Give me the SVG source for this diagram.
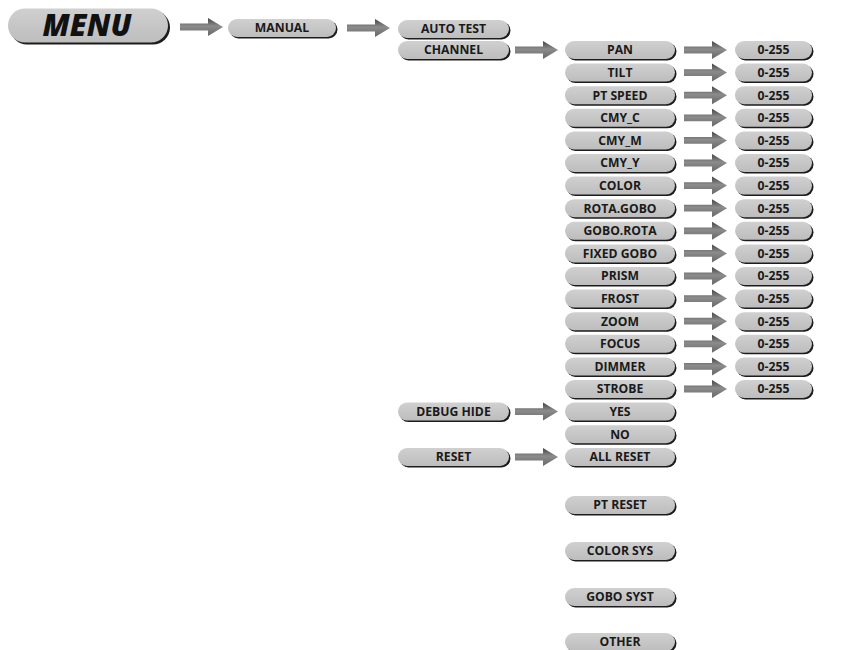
<svg xmlns="http://www.w3.org/2000/svg" width="843" height="650" viewBox="0 0 843 650">
<defs>
<linearGradient id="pg" x1="0" y1="0" x2="0" y2="1">
<stop offset="0" stop-color="#d0d0d0"/>
<stop offset="1" stop-color="#bdbdbd"/>
</linearGradient>
<linearGradient id="ag" x1="0" y1="0" x2="0" y2="1">
<stop offset="0" stop-color="#444"/>
<stop offset="0.45" stop-color="#8c8c8c"/>
<stop offset="1" stop-color="#666"/>
</linearGradient>
<path id="arr" d="M0,-3.4 H28 V-9 L43,0 L28,9 V3.4 H0 Z"/>
</defs>
<style>
.sh{fill:#1c1c1c}
.pl{fill:url(#pg)}
.t{font-family:"Open Sans","Noto Sans","Liberation Sans",sans-serif;font-weight:bold;font-size:12.2px;fill:#1a1a1a;text-anchor:middle}
.mt{font-family:"Open Sans","Noto Sans","Liberation Sans",sans-serif;font-weight:800;font-style:italic;font-size:30px;fill:#111;text-anchor:middle}
.a{fill:url(#ag)}
</style>
<rect width="843" height="650" fill="#fff"/>
<g id="connectors">
<use href="#arr" class="a" x="180" y="27"/>
<use href="#arr" class="a" x="347" y="28"/>
<use href="#arr" class="a" x="515" y="50"/>
<use href="#arr" class="a" x="515" y="411.6"/>
<use href="#arr" class="a" x="515" y="457"/>
<use href="#arr" class="a" x="684" y="50"/>
<use href="#arr" class="a" x="684" y="72.6"/>
<use href="#arr" class="a" x="684" y="95.2"/>
<use href="#arr" class="a" x="684" y="117.8"/>
<use href="#arr" class="a" x="684" y="140.4"/>
<use href="#arr" class="a" x="684" y="163"/>
<use href="#arr" class="a" x="684" y="185.6"/>
<use href="#arr" class="a" x="684" y="208.2"/>
<use href="#arr" class="a" x="684" y="230.8"/>
<use href="#arr" class="a" x="684" y="253.4"/>
<use href="#arr" class="a" x="684" y="276"/>
<use href="#arr" class="a" x="684" y="298.6"/>
<use href="#arr" class="a" x="684" y="321.2"/>
<use href="#arr" class="a" x="684" y="343.8"/>
<use href="#arr" class="a" x="684" y="366.4"/>
<use href="#arr" class="a" x="684" y="389"/>
</g>
<g id="menu"><rect class="sh" x="10" y="10.5" width="160" height="34" rx="17"/><rect class="pl" x="8" y="8.5" width="160" height="34" rx="17"/><text class="mt" x="87" y="36">MENU</text></g>
<g id="manual"><rect class="sh" x="229.5" y="20.5" width="108" height="18" rx="9"/><rect class="pl" x="228" y="19" width="108" height="18" rx="9"/><text class="t" x="282" y="32.3">MANUAL</text></g>
<g id="autotest"><rect class="sh" x="399.5" y="21.5" width="111" height="18" rx="9"/><rect class="pl" x="398" y="20" width="111" height="18" rx="9"/><text class="t" x="453.5" y="33.3">AUTO TEST</text></g>
<g id="channel"><rect class="sh" x="399.5" y="42.5" width="111" height="18" rx="9"/><rect class="pl" x="398" y="41" width="111" height="18" rx="9"/><text class="t" x="453.5" y="54.3">CHANNEL</text></g>
<g id="debughide"><rect class="sh" x="399.5" y="404.1" width="111" height="18" rx="9"/><rect class="pl" x="398" y="402.6" width="111" height="18" rx="9"/><text class="t" x="453.5" y="415.9">DEBUG HIDE</text></g>
<g id="reset"><rect class="sh" x="399.5" y="449.5" width="111" height="18" rx="9"/><rect class="pl" x="398" y="448" width="111" height="18" rx="9"/><text class="t" x="453.5" y="461.3">RESET</text></g>
<g id="pan"><rect class="sh" x="566.5" y="42.5" width="110" height="18" rx="9"/><rect class="pl" x="565" y="41" width="110" height="18" rx="9"/><text class="t" x="620" y="54.3">PAN</text></g>
<g id="tilt"><rect class="sh" x="566.5" y="65.1" width="110" height="18" rx="9"/><rect class="pl" x="565" y="63.6" width="110" height="18" rx="9"/><text class="t" x="620" y="76.9">TILT</text></g>
<g id="ptspeed"><rect class="sh" x="566.5" y="87.7" width="110" height="18" rx="9"/><rect class="pl" x="565" y="86.2" width="110" height="18" rx="9"/><text class="t" x="620" y="99.5">PT SPEED</text></g>
<g id="cmyc"><rect class="sh" x="566.5" y="110.3" width="110" height="18" rx="9"/><rect class="pl" x="565" y="108.8" width="110" height="18" rx="9"/><text class="t" x="620" y="122.1">CMY_C</text></g>
<g id="cmym"><rect class="sh" x="566.5" y="132.9" width="110" height="18" rx="9"/><rect class="pl" x="565" y="131.4" width="110" height="18" rx="9"/><text class="t" x="620" y="144.7">CMY_M</text></g>
<g id="cmyy"><rect class="sh" x="566.5" y="155.5" width="110" height="18" rx="9"/><rect class="pl" x="565" y="154" width="110" height="18" rx="9"/><text class="t" x="620" y="167.3">CMY_Y</text></g>
<g id="color"><rect class="sh" x="566.5" y="178.1" width="110" height="18" rx="9"/><rect class="pl" x="565" y="176.6" width="110" height="18" rx="9"/><text class="t" x="620" y="189.9">COLOR</text></g>
<g id="rotagobo"><rect class="sh" x="566.5" y="200.7" width="110" height="18" rx="9"/><rect class="pl" x="565" y="199.2" width="110" height="18" rx="9"/><text class="t" x="620" y="212.5">ROTA.GOBO</text></g>
<g id="goborota"><rect class="sh" x="566.5" y="223.3" width="110" height="18" rx="9"/><rect class="pl" x="565" y="221.8" width="110" height="18" rx="9"/><text class="t" x="620" y="235.1">GOBO.ROTA</text></g>
<g id="fixedgobo"><rect class="sh" x="566.5" y="245.9" width="110" height="18" rx="9"/><rect class="pl" x="565" y="244.4" width="110" height="18" rx="9"/><text class="t" x="620" y="257.7">FIXED GOBO</text></g>
<g id="prism"><rect class="sh" x="566.5" y="268.5" width="110" height="18" rx="9"/><rect class="pl" x="565" y="267" width="110" height="18" rx="9"/><text class="t" x="620" y="280.3">PRISM</text></g>
<g id="frost"><rect class="sh" x="566.5" y="291.1" width="110" height="18" rx="9"/><rect class="pl" x="565" y="289.6" width="110" height="18" rx="9"/><text class="t" x="620" y="302.9">FROST</text></g>
<g id="zoom"><rect class="sh" x="566.5" y="313.7" width="110" height="18" rx="9"/><rect class="pl" x="565" y="312.2" width="110" height="18" rx="9"/><text class="t" x="620" y="325.5">ZOOM</text></g>
<g id="focus"><rect class="sh" x="566.5" y="336.3" width="110" height="18" rx="9"/><rect class="pl" x="565" y="334.8" width="110" height="18" rx="9"/><text class="t" x="620" y="348.1">FOCUS</text></g>
<g id="dimmer"><rect class="sh" x="566.5" y="358.9" width="110" height="18" rx="9"/><rect class="pl" x="565" y="357.4" width="110" height="18" rx="9"/><text class="t" x="620" y="370.7">DIMMER</text></g>
<g id="strobe"><rect class="sh" x="566.5" y="381.5" width="110" height="18" rx="9"/><rect class="pl" x="565" y="380" width="110" height="18" rx="9"/><text class="t" x="620" y="393.3">STROBE</text></g>
<g id="yes"><rect class="sh" x="566.5" y="404.1" width="110" height="18" rx="9"/><rect class="pl" x="565" y="402.6" width="110" height="18" rx="9"/><text class="t" x="620" y="415.9">YES</text></g>
<g id="no"><rect class="sh" x="566.5" y="426.7" width="110" height="18" rx="9"/><rect class="pl" x="565" y="425.2" width="110" height="18" rx="9"/><text class="t" x="620" y="438.5">NO</text></g>
<g id="allreset"><rect class="sh" x="566.5" y="449.5" width="110" height="18" rx="9"/><rect class="pl" x="565" y="448" width="110" height="18" rx="9"/><text class="t" x="620" y="461.3">ALL RESET</text></g>
<g id="ptreset"><rect class="sh" x="566.5" y="497.5" width="110" height="18" rx="9"/><rect class="pl" x="565" y="496" width="110" height="18" rx="9"/><text class="t" x="620" y="509.3">PT RESET</text></g>
<g id="colorsys"><rect class="sh" x="566.5" y="543.5" width="110" height="18" rx="9"/><rect class="pl" x="565" y="542" width="110" height="18" rx="9"/><text class="t" x="620" y="555.3">COLOR SYS</text></g>
<g id="gobosyst"><rect class="sh" x="566.5" y="589.5" width="110" height="18" rx="9"/><rect class="pl" x="565" y="588" width="110" height="18" rx="9"/><text class="t" x="620" y="601.3">GOBO SYST</text></g>
<g id="other"><rect class="sh" x="566.5" y="634.5" width="110" height="18" rx="9"/><rect class="pl" x="565" y="633" width="110" height="18" rx="9"/><text class="t" x="620" y="646.3">OTHER</text></g>
<g id="values">
<g id="v1"><rect class="sh" x="736.5" y="42.5" width="77" height="18" rx="9"/><rect class="pl" x="735" y="41" width="77" height="18" rx="9"/><text class="t" x="773.5" y="54.3">0-255</text></g>
<g id="v2"><rect class="sh" x="736.5" y="65.1" width="77" height="18" rx="9"/><rect class="pl" x="735" y="63.6" width="77" height="18" rx="9"/><text class="t" x="773.5" y="76.9">0-255</text></g>
<g id="v3"><rect class="sh" x="736.5" y="87.7" width="77" height="18" rx="9"/><rect class="pl" x="735" y="86.2" width="77" height="18" rx="9"/><text class="t" x="773.5" y="99.5">0-255</text></g>
<g id="v4"><rect class="sh" x="736.5" y="110.3" width="77" height="18" rx="9"/><rect class="pl" x="735" y="108.8" width="77" height="18" rx="9"/><text class="t" x="773.5" y="122.1">0-255</text></g>
<g id="v5"><rect class="sh" x="736.5" y="132.9" width="77" height="18" rx="9"/><rect class="pl" x="735" y="131.4" width="77" height="18" rx="9"/><text class="t" x="773.5" y="144.7">0-255</text></g>
<g id="v6"><rect class="sh" x="736.5" y="155.5" width="77" height="18" rx="9"/><rect class="pl" x="735" y="154" width="77" height="18" rx="9"/><text class="t" x="773.5" y="167.3">0-255</text></g>
<g id="v7"><rect class="sh" x="736.5" y="178.1" width="77" height="18" rx="9"/><rect class="pl" x="735" y="176.6" width="77" height="18" rx="9"/><text class="t" x="773.5" y="189.9">0-255</text></g>
<g id="v8"><rect class="sh" x="736.5" y="200.7" width="77" height="18" rx="9"/><rect class="pl" x="735" y="199.2" width="77" height="18" rx="9"/><text class="t" x="773.5" y="212.5">0-255</text></g>
<g id="v9"><rect class="sh" x="736.5" y="223.3" width="77" height="18" rx="9"/><rect class="pl" x="735" y="221.8" width="77" height="18" rx="9"/><text class="t" x="773.5" y="235.1">0-255</text></g>
<g id="v10"><rect class="sh" x="736.5" y="245.9" width="77" height="18" rx="9"/><rect class="pl" x="735" y="244.4" width="77" height="18" rx="9"/><text class="t" x="773.5" y="257.7">0-255</text></g>
<g id="v11"><rect class="sh" x="736.5" y="268.5" width="77" height="18" rx="9"/><rect class="pl" x="735" y="267" width="77" height="18" rx="9"/><text class="t" x="773.5" y="280.3">0-255</text></g>
<g id="v12"><rect class="sh" x="736.5" y="291.1" width="77" height="18" rx="9"/><rect class="pl" x="735" y="289.6" width="77" height="18" rx="9"/><text class="t" x="773.5" y="302.9">0-255</text></g>
<g id="v13"><rect class="sh" x="736.5" y="313.7" width="77" height="18" rx="9"/><rect class="pl" x="735" y="312.2" width="77" height="18" rx="9"/><text class="t" x="773.5" y="325.5">0-255</text></g>
<g id="v14"><rect class="sh" x="736.5" y="336.3" width="77" height="18" rx="9"/><rect class="pl" x="735" y="334.8" width="77" height="18" rx="9"/><text class="t" x="773.5" y="348.1">0-255</text></g>
<g id="v15"><rect class="sh" x="736.5" y="358.9" width="77" height="18" rx="9"/><rect class="pl" x="735" y="357.4" width="77" height="18" rx="9"/><text class="t" x="773.5" y="370.7">0-255</text></g>
<g id="v16"><rect class="sh" x="736.5" y="381.5" width="77" height="18" rx="9"/><rect class="pl" x="735" y="380" width="77" height="18" rx="9"/><text class="t" x="773.5" y="393.3">0-255</text></g>
</g>
</svg>
